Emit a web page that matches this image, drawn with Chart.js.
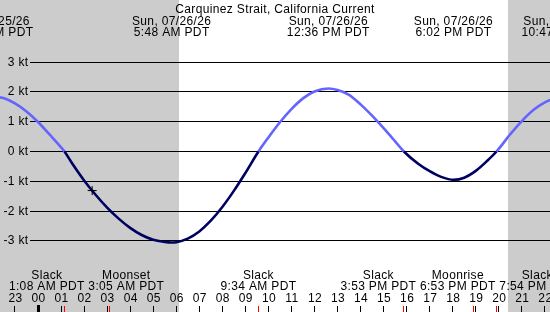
<!DOCTYPE html>
<html><head><meta charset="utf-8">
<script src="https://cdn.jsdelivr.net/npm/chart.js@4.4.1/dist/chart.umd.min.js"></script>
<style>html,body{margin:0;padding:0;background:#fff;overflow:hidden}canvas{display:block}</style>
</head><body>
<canvas id="c" width="550" height="312"></canvas>
<script>
// ---- data (hours relative to midnight Sun 07/26/26, current in knots) ----
const title = "Carquinez Strait, California Current";
const times  = [-2, -1.5, -1, -0.5, 0, 0.5, 1, 1.15, 1.5, 2, 2.5, 3, 3.5, 4, 4.5, 5, 5.5, 5.8, 6, 6.5, 7, 7.5, 8, 8.5, 9, 9.57, 10, 10.5, 11, 11.5, 12, 12.6, 13, 13.5, 14, 14.5, 15, 15.5, 15.88, 16.5, 17, 17.5, 18.03, 18.5, 19, 19.5, 19.9, 20.5, 21, 21.5, 22, 22.5];
const speeds = [1.85, 1.79, 1.61, 1.34, 0.99, 0.57, 0.14, 0, -0.42, -0.97, -1.45, -1.88, -2.25, -2.56, -2.80, -2.96, -3.03, -3.05, -3.04, -2.92, -2.68, -2.32, -1.86, -1.32, -0.72, 0, 0.47, 0.98, 1.42, 1.78, 2.01, 2.11, 2.06, 1.90, 1.58, 1.20, 0.78, 0.34, 0, -0.41, -0.66, -0.85, -0.95, -0.88, -0.65, -0.31, 0, 0.58, 1.02, 1.39, 1.65, 1.79];
const yTicks = [3, 2, 1, 0, -1, -2, -3];
const yTickLabels = ["3 kt", "2 kt", "1 kt", "0 kt", "-1 kt", "-2 kt", "-3 kt"];
const hourTicks = [-1,0,1,2,3,4,5,6,7,8,9,10,11,12,13,14,15,16,17,18,19,20,21,22];
const hourLabels = ["23","00","01","02","03","04","05","06","07","08","09","10","11","12","13","14","15","16","17","18","19","20","21","22"];
const nights = [[-3, 6.1], [20.39, 24]];
const peakTimes = [-2.0, 5.8, 12.6, 18.033, 22.783];
const peakDates = ["Sat, 07/25/26", "Sun, 07/26/26", "Sun, 07/26/26", "Sun, 07/26/26", "Sun, 07/26/26"];
const peakLabels = ["10:00 PM PDT", "5:48 AM PDT", "12:36 PM PDT", "6:02 PM PDT", "10:47 PM PDT"];
const eventTimes = [1.133, 3.083, 9.567, 15.883, 18.883, 19.9];
const eventNames = ["Slack", "Moonset", "Slack", "Slack", "Moonrise", "Slack"];
const eventLabels = ["1:08 AM PDT", "3:05 AM PDT", "9:34 AM PDT", "3:53 PM PDT", "6:53 PM PDT", "7:54 PM PDT"];
const nowTime = 2.35, nowSpeed = -1.31;

// ---- styling ----
const FLOOD = "#6464ff", EBB = "#000060", NIGHT = "#cccccc";
const FONT = '12px "Liberation Sans", Arial, sans-serif';
const PXH = 23.04, X0 = 38;            // layout of the time axis
const PXK = 29.83, Y0 = 151.5;         // layout of the knot axis
const W = 550, H = 312;

function setFont(ctx){ ctx.font = FONT; ctx.letterSpacing = "0.35px"; ctx.fillStyle = "#000"; }

function spread(xs, widths, gap){
  const order = xs.map((x,i)=>i).sort((a,b)=>xs[a]-xs[b]);
  const place = c => {
    const offs=[0];
    for(let k=1;k<c.idx.length;k++) offs.push(offs[k-1] + (widths[c.idx[k-1]]+widths[c.idx[k]])/2 + gap);
    const md = c.idx.reduce((s,i)=>s+xs[i],0)/c.idx.length;
    const mo = offs.reduce((s,o)=>s+o,0)/offs.length;
    c.pos = offs.map(o=>md+o-mo);
  };
  let cl = order.map(i=>({idx:[i]})); cl.forEach(place);
  let changed=true;
  while(changed){
    changed=false;
    for(let k=0;k<cl.length-1;k++){
      const a=cl[k], b=cl[k+1];
      const ra=a.pos[a.pos.length-1]+widths[a.idx[a.idx.length-1]]/2;
      const lb=b.pos[0]-widths[b.idx[0]]/2;
      if(ra+gap>lb){ a.idx=a.idx.concat(b.idx); place(a); cl.splice(k+1,1); changed=true; break; }
    }
  }
  const out=[]; cl.forEach(c=>c.idx.forEach((i,k)=>out[i]=c.pos[k])); return out;
}

const xtide = {
  id: "xtide",
  beforeDatasetsDraw(chart){
    const {ctx, scales:{x, y}} = chart;
    ctx.save();
    ctx.fillStyle = "#fff"; ctx.fillRect(0,0,W,H);
    ctx.fillStyle = NIGHT;
    nights.forEach(([a,b])=>{
      const xa=Math.max(0,Math.round(x.getPixelForValue(a)));
      const xb=Math.min(W,Math.round(x.getPixelForValue(b)));
      ctx.fillRect(xa,0,xb-xa,H);
    });
    // horizontal grid + labels
    ctx.strokeStyle="#000"; ctx.lineWidth=1;
    setFont(ctx); ctx.textAlign="right"; ctx.textBaseline="alphabetic";
    yTicks.forEach((v,i)=>{
      const row=Math.floor(y.getPixelForValue(v)+1e-6);
      ctx.beginPath(); ctx.moveTo(30,row+0.5); ctx.lineTo(W,row+0.5); ctx.stroke();
      ctx.fillText(yTickLabels[i], 28.5, row+4);
    });
    ctx.restore();
  },
  afterDatasetsDraw(chart){
    const {ctx, scales:{x}} = chart;
    ctx.save();
    setFont(ctx); ctx.textAlign="center"; ctx.textBaseline="alphabetic";
    ctx.fillText(title, W/2, 13);
    peakTimes.forEach((t,i)=>{
      const px=x.getPixelForValue(t);
      ctx.fillText(peakDates[i], px, 25);
      ctx.fillText(peakLabels[i], px, 36);
    });
    // hour ticks
    hourTicks.forEach((h,i)=>{
      const px=x.getPixelForValue(h);
      const col=Math.floor(px+1e-6);
      ctx.fillStyle="#000";
      if(hourLabels[i]==="00") ctx.fillRect(col-1,305,3,H-305); else ctx.fillRect(col,306,1,H-306);
      ctx.fillText(hourLabels[i], px+0.5, 302);
    });
    // events
    ctx.fillStyle="#ff0000";
    eventTimes.forEach(t=>{ const col=Math.floor(x.getPixelForValue(t)+1e-6); ctx.fillRect(col,306,1,H-306); });
    ctx.fillStyle="#000";
    const xs=eventTimes.map(t=>x.getPixelForValue(t));
    const ws=eventTimes.map((t,i)=>Math.max(ctx.measureText(eventNames[i]).width, ctx.measureText(eventLabels[i]).width));
    const pos=spread(xs, ws, 3.6);
    eventTimes.forEach((t,i)=>{
      ctx.fillText(eventNames[i], pos[i], 279);
      ctx.fillText(eventLabels[i], pos[i], 290);
    });
    ctx.restore();
  }
};

new Chart(document.getElementById("c"), {
  type: "line",
  data: {
    datasets: [
      { data:[{x:nowTime,y:nowSpeed}], pointStyle:"cross", pointRadius:4.5, borderColor:"#000", borderWidth:1, showLine:false, order:0 },
      { data: times.map((t,i)=>({x:t, y:speeds[i]})), borderWidth:2.6, pointRadius:0, fill:false,
        cubicInterpolationMode:"monotone", borderColor:FLOOD, order:1,
        segment:{ borderColor: c => (c.p0.parsed.y + c.p1.parsed.y) >= 0 ? FLOOD : EBB } }
    ]
  },
  options: {
    responsive:false, animation:false, devicePixelRatio:1, events:[],
    layout:{ padding:0, autoPadding:false },
    plugins:{ legend:{display:false}, title:{display:false}, tooltip:{enabled:false} },
    scales:{
      x:{ type:"linear", display:false, min:-X0/PXH, max:(W-X0)/PXH },
      y:{ type:"linear", display:false, min:-(H-Y0)/PXK, max:Y0/PXK }
    }
  },
  plugins:[xtide]
});
</script>
</body></html>
